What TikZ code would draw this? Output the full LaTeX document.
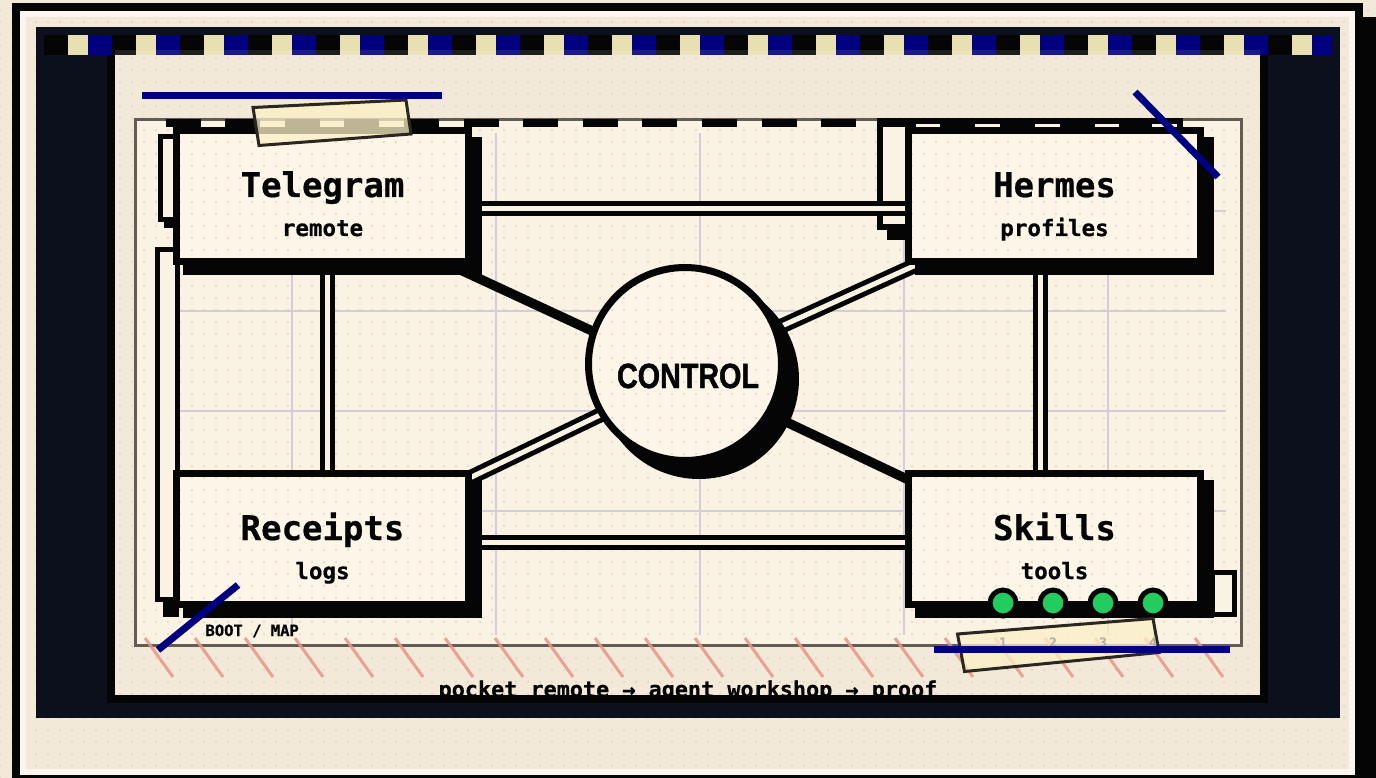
\documentclass[tikz,border=0pt]{standalone}
\usepackage{fontspec}
\newfontfamily\codefont{DejaVu Sans Mono}[BoldFeatures={FakeBold=0.6}]
\newfontfamily\ctlfont{Liberation Sans Bold}[FakeStretch=0.82,FakeBold=1.4]
\usetikzlibrary{calc,patterns}

% fine dot grid used on every paper surface
\pgfdeclarepatternformonly{dotgrid}{\pgfqpoint{-2pt}{-2pt}}{\pgfqpoint{2pt}{2pt}}{\pgfqpoint{12pt}{12pt}}{%
  \pgfpathcircle{\pgfqpoint{0pt}{0pt}}{1.1pt}\pgfusepath{fill}}

\pgfdeclarelayer{base}
\pgfdeclarelayer{links}
\pgfsetlayers{base,links,main}

\definecolor{ink}{HTML}{050505}
\definecolor{bgcream}{HTML}{F2E9D9}
\definecolor{cardrim}{HTML}{FAF6EF}
\definecolor{navy}{HTML}{0B101C}
\definecolor{paper}{HTML}{F3E9D8}
\definecolor{frameIn}{HTML}{FAF2E3}
\definecolor{boxfill}{HTML}{FDF6E8}
\definecolor{checkcream}{HTML}{E9E0B2}
\definecolor{royal}{HTML}{000080}
\definecolor{framegray}{HTML}{625C55}
\definecolor{gridlav}{HTML}{D5CCD9}
\definecolor{tapefill}{HTML}{FCF0C6}
\definecolor{tapeedge}{HTML}{2B2620}
\definecolor{hatch}{HTML}{E8948A}
\definecolor{ledgreen}{HTML}{22CC5E}
\definecolor{dotc}{HTML}{E0D5C2}
\definecolor{digitgray}{HTML}{B9B1A1}

\tikzset{
  dotfill/.style={preaction={fill=#1},preaction={pattern=dotgrid,pattern color=dotc}},
  panel/.style={rectangle,draw=ink,line width=7pt,dotfill=boxfill,
    minimum width=292pt,minimum height=131pt,inner sep=0pt},
  hub/.style={circle,draw=ink,line width=7pt,dotfill=boxfill,
    minimum size=193pt,inner sep=0pt},
  titletext/.style={anchor=base,text=ink,font=\codefont\bfseries\fontsize{34}{36}\selectfont},
  subtext/.style={anchor=base,text=ink,font=\codefont\bfseries\fontsize{22.5}{24}\selectfont},
  hubtext/.style={anchor=base,text=ink,font=\ctlfont\fontsize{35}{36}\selectfont},
  dbl/.style={draw=ink,line width=5pt,double=frameIn,double distance=5pt},
  bar/.style={draw=ink,line width=9.5pt},
  ghost/.style={draw=ink,line width=5pt,fill=frameIn},
  led/.style={circle,draw=ink,line width=5pt,fill=ledgreen,minimum size=26pt,inner sep=0pt},
  bluestroke/.style={draw=royal,line width=7pt},
  tape/.style={fill=tapefill,fill opacity=0.75,draw=tapeedge,line width=3pt,line join=miter},
  hatchline/.style={draw=hatch,line width=3pt,opacity=0.85},
  gridline/.style={draw=gridlav,line width=1.6pt},
  digit/.style={anchor=base,text=digitgray,font=\codefont\bfseries\fontsize{13}{14}\selectfont},
}

\begin{document}
\begin{tikzpicture}[x=1pt,y=-1pt]
\useasboundingbox (0,0) rectangle (1376,778);

\begin{pgfonlayer}{base}
  % desk and card
  \path[dotfill=bgcream] (0,0) rectangle (1376,778);
  \fill[ink] (26,17) rectangle (1380,800);
  \path[dotfill=bgcream] (16,7) rectangle (1359,779);
  \draw[ink,line width=8pt] (16,7) rectangle (1359,779);
  \draw[cardrim,line width=6pt] (23,14) rectangle (1352,772);

  % dark board
  \fill[navy] (36,27) rectangle (1340,718);

  % poster sheet
  \path[dotfill=paper] (111,46) rectangle (1264,699);

  % inner frame with its guide grid
  \path[dotfill=frameIn] (135,120) rectangle (1241,645);
  \foreach \gx in {292,496,700,904,1108}
    \draw[gridline] (\gx,133) -- (\gx,635);
  \foreach \gy in {211,311,411,511}
    \draw[gridline] (178,\gy) -- (1226,\gy);
  \draw[framegray,line width=3pt] (135,120) rectangle (1241,645);

  % offset outlines behind the panels
  \fill[ink] (164,140) rectangle (179,228);
  \draw[ghost] (160.5,136.5) rectangle (176.5,219.5);
  \fill[ink] (163,262) rectangle (179,617);
  \draw[ghost] (157.5,249.5) rectangle (177,599.5);
  \fill[ink] (887,128) rectangle (1190,240);
  \draw[ghost,line width=6pt] (880,121) rectangle (1180,227);

  % dashed rail along the top
  \draw[ink,line width=8pt,dash pattern=on 35pt off 24.6pt] (165.5,123.5) -- (1152,123.5);

  % caption, cut by the sheet edge
  \node[anchor=base,text=ink,font=\codefont\bfseries\fontsize{21.8}{22}\selectfont] (caption)
    at (688,697) {pocket remote → agent workshop → proof};
  \draw[ink,line width=8pt] (111,46) rectangle (1264,699);
\end{pgfonlayer}

% panels and hub
\node[panel] (tg) at (322.5,196) {};
\node[panel] (hm) at (1054.5,196) {};
\node[panel] (rc) at (322.5,539) {};
\node[panel] (sk) at (1054.5,539) {};
\node[hub] (ctl) at (685,364) {};

\begin{pgfonlayer}{links}
  \draw[dbl] ($(tg.center)+(0,12.5)$) -- ($(hm.center)+(0,12.5)$);
  \draw[dbl] ($(rc.center)+(0,3.5)$) -- ($(sk.center)+(0,3.5)$);
  \draw[dbl] ($(tg.center)+(5,0)$) -- ($(rc.center)+(5,0)$);
  \draw[dbl] ($(hm.center)+(-14.5,0)$) -- ($(sk.center)+(-14.5,0)$);
  \draw[bar] ($(tg.center)+(0,10)$) -- ($(ctl.center)+(0,10)$);
  \draw[bar] ($(ctl.center)+(0,10)$) -- ($(sk.center)+(0,10)$);
  \draw[dbl] ($(hm.center)+(0,6)$) -- ($(ctl.center)+(0,6)$);
  \draw[dbl] ($(rc.center)+(0,10)$) -- ($(ctl.center)+(0,10)$);
  % hard drop shadows
  \foreach \n in {tg,hm,rc,sk}
    \fill[ink] ($(\n.north west)+(10,10)$) rectangle ($(\n.south east)+(10,10)$);
  \fill[ink] ($(ctl.center)+(14,15)$) circle[radius=100];
\end{pgfonlayer}

% labels
\node[titletext] (tgT) at ($(tg.center)+(0,1)$) {Telegram};
\node[subtext]   (tgS) at ($(tg.center)+(0,40)$) {remote};
\node[titletext] (hmT) at ($(hm.center)+(0,1)$) {Hermes};
\node[subtext]   (hmS) at ($(hm.center)+(0,40)$) {profiles};
\node[titletext] (rcT) at ($(rc.center)+(0,1)$) {Receipts};
\node[subtext]   (rcS) at ($(rc.center)+(0,40)$) {logs};
\node[titletext] (skT) at ($(sk.center)+(0,1)$) {Skills};
\node[subtext]   (skS) at ($(sk.center)+(0,40)$) {tools};
\node[hubtext]   (ctlT) at ($(ctl.center)+(3,24)$) {CONTROL};

% side tab on the tools panel
\draw[ghost] (1212.5,572.5) rectangle (1234.5,614.5);

% header strip
\begin{scope}
  \clip (44,35) rectangle (1332,55);
  \foreach \i in {0,...,18} {
    \fill[ink] (44+68*\i,35) rectangle (68+68*\i,55);
    \fill[checkcream] (68+68*\i,35) rectangle (88+68*\i,55);
    \fill[royal] (88+68*\i,35) rectangle (112+68*\i,55);
  }
\end{scope}
\fill[white,opacity=0.1] (115,50) rectangle (1260,55);

% hatch marks along the lower edge
\foreach \k in {0,...,21}
  \draw[hatchline] (145+50*\k,638) -- ++(28,39);

% status lamps
\foreach \k/\lx in {1/1003,2/1053,3/1103,4/1153}
  \node[led] (led\k) at (\lx,603) {};

\node[anchor=base west,text=ink,font=\codefont\bfseries\fontsize{15.5}{16}\selectfont] (boot)
  at (202,636) {BOOT / MAP};

% tape strips
\draw[tape] (253,107.5) -- (406,100) -- (411,134) -- (259,145.5) -- cycle;
\draw[tape] (957.5,634) -- (1153,618.5) -- (1159,652.5) -- (964.5,671.5) -- cycle;

% lamp numbers, faint on the tape
\foreach \k in {1,...,4}
  \node[digit] (num\k) at ($(led\k.center)+(0,44)$) {\k};

% ink strokes
\draw[bluestroke] (142,96) -- (442,96);
\draw[bluestroke] (1135,92) -- (1218,177);
\draw[bluestroke] (238,585) -- (158,650);
\draw[bluestroke] (934,649.5) -- (1230,649.5);
\end{tikzpicture}
\end{document}
